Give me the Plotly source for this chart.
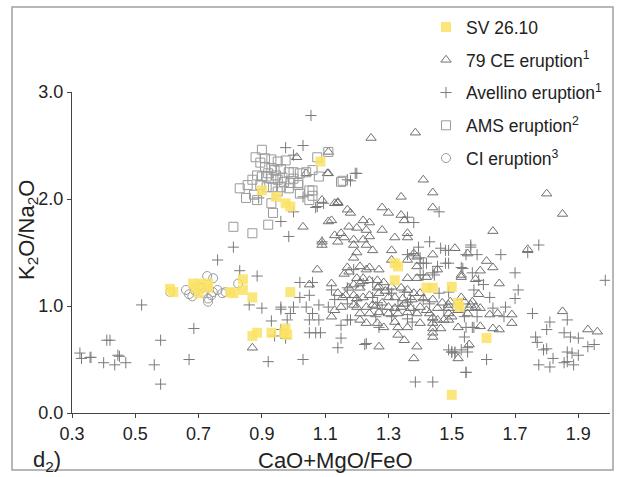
import plotly.graph_objects as go

# ---------------- data ----------------
sv_x = [0.61, 0.62, 0.683, 0.69, 0.705, 0.73, 0.70, 0.73, 0.80, 0.81, 0.84, 0.84, 0.87,
        0.87, 0.885, 0.93, 0.97, 0.975, 0.98, 0.99, 0.90, 0.945, 0.975, 0.99, 1.085,
        1.32, 1.33, 1.32, 1.42, 1.44, 1.50, 1.52, 1.525, 1.61, 1.50]
sv_y = [1.16, 1.13, 1.21, 1.17, 1.21, 1.21, 1.12, 1.17, 1.13, 1.12, 1.25, 1.15, 1.08,
        0.72, 0.75, 0.75, 0.75, 0.79, 0.73, 1.13, 2.08, 2.02, 1.96, 1.93, 2.35,
        1.40, 1.37, 1.24, 1.17, 1.17, 1.18, 1.03, 0.99, 0.70, 0.17]

ce79_x = [1.107, 1.04, 1.41, 1.44, 1.34, 1.09, 1.13, 1.14, 1.17, 1.18, 1.28, 1.30, 1.34, 1.35,
          1.44, 1.11, 1.03, 1.22, 1.24, 1.20, 1.23, 1.28, 1.15, 1.13, 1.16, 1.19, 1.24, 1.22,
          1.36, 1.36, 1.32, 1.09, 1.09, 1.14, 1.19, 1.23, 1.25, 1.20, 1.31, 1.38, 1.39, 1.44,
          1.51, 1.55, 1.19, 1.21, 1.36, 1.31, 1.075, 1.12, 1.17, 1.175, 1.23, 1.24, 1.27, 1.39,
          1.455, 1.53, 1.36, 1.39, 1.42, 1.20, 1.22, 1.24, 1.265, 1.285, 1.19, 1.21, 1.175, 1.21,
          1.265, 1.27, 1.31, 1.34, 1.36, 1.38, 1.40, 1.14, 1.155, 1.165, 1.19, 1.20, 1.22, 1.24,
          1.27, 1.30, 1.32, 1.345, 1.375, 1.41, 1.44, 1.47, 1.495, 1.54, 1.56, 1.575, 1.15, 1.13,
          1.19, 1.20, 1.23, 1.25, 1.28, 1.30, 1.32, 1.34, 1.37, 1.40, 1.42, 1.455, 1.49, 1.52,
          1.55, 1.21, 1.24, 1.27, 1.30, 1.33, 1.36, 1.39, 1.43, 1.44, 1.455, 1.475, 1.50, 1.21,
          1.23, 1.265, 1.285, 1.32, 1.33, 1.36, 1.40, 1.44, 1.44, 1.465, 1.52, 1.33, 1.35, 1.27,
          1.38, 1.39, 1.44, 1.44, 1.12, 0.87, 1.245, 1.385, 1.01, 1.11, 1.11, 1.14, 1.12, 1.175,
          1.80, 1.85, 1.63, 1.74, 1.61, 1.63, 1.59, 1.53, 1.575, 1.65, 1.585, 1.53, 1.565, 1.555,
          1.59, 1.62, 1.645, 1.69, 1.69, 1.65, 1.63, 1.59, 1.49, 1.49, 1.49, 1.555, 1.52, 1.85,
          1.93, 1.96, 1.26, 1.29, 1.35, 1.16, 1.05]
ce79_y = [2.24, 2.24, 2.18, 2.06, 2.02, 1.99, 1.96, 1.96, 1.90, 1.87, 1.92, 1.87, 1.85, 1.80,
          1.92, 1.79, 1.74, 1.80, 1.78, 1.73, 1.71, 1.71, 1.68, 1.66, 1.64, 1.62, 1.65, 1.62,
          1.68, 1.64, 1.64, 1.60, 1.57, 1.60, 1.57, 1.57, 1.52, 1.50, 1.52, 1.49, 1.46, 1.48,
          1.54, 1.49, 1.45, 1.37, 1.43, 1.43, 1.34, 1.21, 1.36, 1.32, 1.34, 1.36, 1.34, 1.37,
          1.34, 1.27, 1.26, 1.26, 1.27, 1.26, 1.26, 1.24, 1.24, 1.22, 1.20, 1.21, 1.17, 1.17,
          1.17, 1.18, 1.18, 1.17, 1.15, 1.12, 1.12, 1.12, 1.08, 1.10, 1.10, 1.07, 1.08, 1.10,
          1.12, 1.08, 1.08, 1.07, 1.06, 1.07, 1.06, 1.03, 1.04, 1.04, 1.01, 0.99, 0.99, 0.96,
          1.01, 0.99, 0.99, 1.01, 1.03, 0.99, 0.98, 0.99, 0.98, 0.99, 0.96, 0.98, 0.98, 0.96,
          0.93, 0.93, 0.93, 0.94, 0.93, 0.93, 0.94, 0.93, 0.93, 0.89, 0.87, 0.87, 0.90, 0.87,
          0.84, 0.84, 0.80, 0.85, 0.80, 0.80, 0.84, 0.84, 0.79, 0.79, 0.80, 0.73, 0.68, 0.62,
          0.51, 0.62, 0.75, 0.71, 0.90, 0.61, 2.57, 2.62, 2.39, 2.44, 2.24, 1.97, 1.80, 1.74,
          2.05, 1.86, 1.70, 1.53, 1.42, 1.36, 1.33, 1.29, 1.25, 1.21, 1.11, 1.08, 1.04, 0.98,
          0.98, 0.92, 0.93, 0.92, 0.84, 0.78, 0.79, 0.81, 0.93, 1.01, 0.87, 0.64, 0.51, 0.95,
          0.78, 0.76, 1.00, 1.14, 1.02, 1.30, 1.20]

av_x = [0.325, 0.33, 0.357, 0.36, 0.40, 0.435, 0.41, 0.445, 0.45, 0.47, 0.42, 0.52, 0.58,
        0.56, 0.67, 0.685, 0.58, 0.83, 0.885, 0.86, 0.90, 0.96, 0.93, 0.96, 0.94, 0.975,
        0.81, 0.76, 0.975, 1.03, 1.0, 0.89, 1.03, 1.07, 1.0, 1.17, 1.055, 1.195, 0.96, 0.985,
        1.20, 1.18, 1.095, 1.075, 1.46, 1.36, 1.38, 1.43, 1.395, 1.36, 1.465, 1.49, 1.56,
        1.545, 1.58, 1.40, 1.42, 1.455, 1.53, 1.565, 1.585, 1.44, 1.40, 1.02, 1.06, 1.02,
        1.05, 1.13, 0.96, 1.0, 1.04, 1.08, 1.11, 1.06, 1.08, 1.05, 0.99, 0.98, 1.05, 1.07,
        1.085, 1.15, 1.14, 1.23, 1.03, 1.17, 1.15, 1.265, 1.385, 1.44, 1.50, 1.51, 1.545,
        1.55, 1.44, 1.475, 1.54, 1.57, 1.58, 1.36, 1.31, 1.27, 1.375, 1.31, 1.19, 1.38,
        1.40, 1.48, 1.56, 1.655, 1.48, 1.535, 1.60, 1.70, 1.775, 1.74, 1.985, 1.71, 1.70,
        1.62, 1.57, 1.63, 1.67, 1.665, 1.545, 1.565, 1.54, 1.50, 1.51, 1.55, 1.61, 1.545,
        1.755, 1.81, 1.80, 1.865, 1.855, 1.765, 1.77, 1.875, 1.90, 1.79, 1.80, 1.865, 1.88,
        1.90, 1.93, 1.95, 1.82, 1.775, 1.81, 1.855, 1.865, 1.885, 1.41, 1.49, 1.17, 1.22,
        1.25, 1.41, 1.445, 1.41, 1.49, 1.18, 1.225, 1.49, 1.53, 1.37, 1.17, 1.20, 1.25,
        1.28, 1.33, 1.35, 1.38, 1.30, 1.43, 1.46, 1.26, 1.36, 1.12, 1.09, 0.92]
av_y = [0.56, 0.51, 0.52, 0.52, 0.47, 0.45, 0.68, 0.54, 0.53, 0.47, 0.68, 1.01, 0.68,
        0.45, 0.50, 0.79, 0.27, 1.33, 1.28, 1.01, 0.98, 0.97, 0.86, 0.78, 0.72, 0.70,
        1.55, 1.43, 2.48, 2.50, 2.41, 2.01, 2.02, 1.92, 1.88, 2.18, 2.78, 2.24, 1.79, 1.65,
        2.24, 2.17, 1.96, 1.93, 1.88, 1.83, 1.78, 1.60, 1.55, 1.48, 1.54, 1.52, 1.55,
        1.48, 1.48, 1.40, 1.40, 1.37, 1.36, 1.31, 1.24, 1.31, 1.29, 1.22, 1.22, 1.08,
        1.10, 1.06, 0.99, 0.99, 0.99, 1.01, 0.99, 0.93, 0.87, 0.87, 0.93, 0.87, 0.75, 0.75,
        0.75, 0.70, 0.61, 0.65, 0.50, 0.87, 0.82, 1.03, 0.29, 0.29, 0.57, 0.57, 0.38,
        0.61, 0.87, 0.96, 0.90, 0.80, 0.90, 1.03, 0.90, 0.80, 0.85, 1.12, 1.34, 1.49,
        1.45, 1.52, 1.57, 1.48, 1.40, 1.35, 1.20, 1.31, 1.57, 1.50, 1.24, 1.15, 1.07,
        1.08, 1.15, 0.98, 0.99, 0.90, 0.80, 0.80, 0.71, 0.57, 0.56, 0.57, 0.50, 0.38,
        0.93, 0.85, 0.78, 0.87, 0.75, 0.71, 0.66, 0.71, 0.70, 0.59, 0.60, 0.57, 0.56,
        0.54, 0.62, 0.64, 0.51, 0.45, 0.43, 0.47, 0.48, 0.45, 1.40, 1.40, 1.17, 1.21,
        1.22, 1.29, 1.29, 1.06, 1.13, 0.87, 0.64, 0.59, 0.59, 1.06, 1.02, 1.05, 1.08,
        0.97, 1.00, 1.13, 0.96, 1.15, 1.02, 1.12, 0.90, 0.88, 1.15, 1.60, 0.48]

ams_x = [0.90, 0.88, 0.91, 0.93, 0.95, 0.975, 0.895, 0.91, 0.93, 0.94, 0.96, 0.985, 1.0,
         1.02, 1.04, 1.06, 1.075, 1.11, 1.08, 0.885, 0.90, 0.915, 0.93, 0.95, 0.97, 0.99,
         1.015, 0.87, 0.855, 0.895, 0.915, 0.935, 0.96, 0.985, 1.015, 0.875, 0.85, 0.83,
         0.95, 1.02, 1.05, 1.05, 1.15, 0.93, 0.935, 0.885, 0.81, 0.87, 0.92, 1.06, 1.155,
         1.06, 0.92, 0.945, 0.965, 1.0]
ams_y = [2.46, 2.39, 2.38, 2.37, 2.35, 2.36, 2.34, 2.30, 2.29, 2.27, 2.28, 2.25, 2.25,
         2.24, 2.25, 2.27, 2.39, 2.44, 2.21, 2.22, 2.21, 2.21, 2.19, 2.18, 2.16, 2.15,
         2.15, 2.18, 2.13, 2.13, 2.11, 2.11, 2.11, 2.10, 2.13, 2.04, 2.01, 2.10, 2.07,
         2.05, 2.08, 1.99, 2.16, 1.96, 1.87, 1.99, 1.74, 1.68, 1.76, 2.03, 2.17, 2.08,
         2.24, 2.22, 2.20, 2.19]

ci_x = [0.727, 0.746, 0.66, 0.67, 0.68, 0.715, 0.73, 0.73, 0.745, 0.775, 0.785, 0.825,
        0.61, 0.70, 0.71, 0.74, 0.69, 0.76]
ci_y = [1.28, 1.26, 1.15, 1.11, 1.09, 1.12, 1.07, 1.04, 1.13, 1.12, 1.13, 1.21,
        1.13, 1.18, 1.17, 1.10, 1.14, 1.15]

names = ["SV 26.10", "79 CE eruption<sup>1</sup>", "Avellino eruption<sup>1</sup>",
         "AMS eruption<sup>2</sup>", "CI eruption<sup>3</sup>"]

x_ticks = [0.3, 0.5, 0.7, 0.9, 1.1, 1.3, 1.5, 1.7, 1.9]
y_ticks = [0.0, 1.0, 2.0, 3.0]

FONT = "Liberation Sans, Arial, sans-serif"

fig = go.Figure()
fig.add_trace(go.Scatter(x=ce79_x, y=ce79_y, mode="markers", name=names[1], legendrank=2,
                         legendgroup="b",
                         marker=dict(symbol="triangle-up-open", size=9, color="#707070",
                                     line=dict(width=1, color="#707070"))))
fig.add_trace(go.Scatter(x=av_x, y=av_y, mode="markers", name=names[2], legendrank=3,
                         legendgroup="c",
                         marker=dict(symbol="cross-thin-open", size=8, color="#7a7a7a",
                                     line=dict(width=1, color="#7a7a7a"))))
fig.add_trace(go.Scatter(x=ams_x, y=ams_y, mode="markers", name=names[3], legendrank=4,
                         legendgroup="d",
                         marker=dict(symbol="square-open", size=9, color="#9a9a9a",
                                     line=dict(width=1, color="#9a9a9a"))))
fig.add_trace(go.Scatter(x=ci_x, y=ci_y, mode="markers", name=names[4], legendrank=5,
                         legendgroup="e",
                         marker=dict(symbol="circle-open", size=9, color="#9a9a9a",
                                     line=dict(width=1, color="#9a9a9a"))))
fig.add_trace(go.Scatter(x=sv_x, y=sv_y, mode="markers", name=names[0], legendrank=1,
                         legendgroup="a",
                         marker=dict(symbol="square", size=10, color="rgba(250,226,100,0.85)",
                                     line=dict(width=0))))

fig.update_layout(
    width=617, height=477,
    margin=dict(l=72, r=7, t=92, b=64),
    paper_bgcolor="white", plot_bgcolor="white",
    font=dict(family=FONT, size=18, color="#222"),
    showlegend=True,
    legend=dict(x=0.658, y=1.258, xanchor="left", yanchor="top",
                bgcolor="rgba(0,0,0,0)", font=dict(size=17.5, color="#222"),
                tracegroupgap=7, itemsizing="trace"),
    xaxis=dict(range=[0.3, 2.0], tickvals=x_ticks, ticktext=[f"{v:.1f}" for v in x_ticks],
               showgrid=False, zeroline=False, showline=True, linecolor="#444", linewidth=1,
               ticks="outside", ticklen=4, tickcolor="#444", tickfont=dict(size=18)),
    yaxis=dict(range=[0, 3.0], tickvals=y_ticks, ticktext=[f"{v:.1f}" for v in y_ticks],
               showgrid=False, zeroline=False, showline=True, linecolor="#444", linewidth=1,
               ticks="outside", ticklen=4, tickcolor="#444", tickfont=dict(size=18)),
)

fig.add_annotation(text="CaO+MgO/FeO", xref="paper", yref="paper", x=0.49, y=-0.148,
                   xanchor="center", yanchor="middle", showarrow=False,
                   font=dict(size=22, color="#222"))
fig.add_annotation(text="K<sub>2</sub>O/Na<sub>2</sub>O", xref="paper", yref="paper",
                   x=-0.082, y=0.57, textangle=-90, xanchor="center", yanchor="middle",
                   showarrow=False, font=dict(size=22, color="#222"))
fig.add_annotation(text="d<sub>2</sub>)", xref="paper", yref="paper", x=-0.046, y=-0.15,
                   xanchor="center", yanchor="middle", showarrow=False,
                   font=dict(size=22, color="#222"))
fig.add_shape(type="rect", xref="paper", yref="paper", x0=-0.1115, x1=1.0056,
              y0=-0.1776, y1=1.2648, line=dict(color="#a0a0a0", width=1.5))

fig.write_html("out.html", config={"displayModeBar": False},
               post_script="document.body.style.margin='0';document.body.style.overflow='hidden';")
